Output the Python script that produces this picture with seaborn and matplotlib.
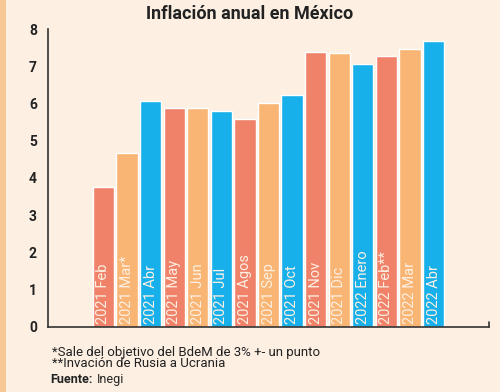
import matplotlib
matplotlib.use("Agg")
import matplotlib.pyplot as plt
import seaborn as sns
from matplotlib.patches import Rectangle

# ---------------- DATA ----------------
meses = ["2021 Feb", "2021 Mar*", "2021 Abr", "2021 May", "2021 Jun", "2021 Jul",
         "2021 Agos", "2021 Sep", "2021 Oct", "2021 Nov", "2021 Dic", "2022 Enero",
         "2022 Feb**", "2022 Mar", "2022 Abr"]
inflacion = [3.76, 4.67, 6.08, 5.89, 5.88, 5.81, 5.59, 6.00, 6.24, 7.37, 7.36, 7.07,
             7.28, 7.45, 7.68]
colores = ["#f0826a", "#f9b574", "#18b0ea"] * 5
yticks = [0, 1, 2, 3, 4, 5, 6, 7, 8]

BG = "#fdf0e3"
INK = "#222222"

sns.set_style("white")
plt.rcParams["font.family"] = ["Roboto", "DejaVu Sans"]

fig = plt.figure(figsize=(5, 3.92), dpi=100, facecolor=BG)
ax = fig.add_axes([0.096, 0.166, 0.882, 0.76])
ax.set_facecolor(BG)

sns.barplot(x=meses, y=inflacion, hue=meses, palette=colores, legend=False,
            width=0.9, saturation=1, ax=ax)

# month labels inside the bars
for i, m in enumerate(meses):
    ax.text(i, 0.08, m, rotation=90, ha="center", va="bottom",
            fontsize=10.5, color=BG)

ax.set_xlim(-2.35, 16.35)
ax.set_ylim(0, 8)
ax.set_xticks([])
ax.set_yticks(yticks)
ax.set_yticklabels([str(t) for t in yticks], fontsize=10, fontweight="bold", color=INK)
ax.tick_params(axis="y", direction="in", length=9, width=1.2, color="#444444", pad=8)
ax.set_xlabel("")
ax.set_ylabel("")
for s in ["top", "right"]:
    ax.spines[s].set_visible(False)
for s in ["left", "bottom"]:
    ax.spines[s].set_color("#333333")
    ax.spines[s].set_linewidth(1.2)
# small end mark on the x axis
ax.plot([16.35, 16.35], [0, 0.12], color="#333333", lw=1.2, clip_on=False)

# left strip
fig.patches.append(Rectangle((0, 0), 0.011, 1, transform=fig.transFigure,
                             facecolor="#f8c796", edgecolor="none"))

fig.text(0.5, 0.965, "Inflación anual en México", ha="center", va="center",
         fontsize=13, fontweight="bold", color=INK)
fig.text(0.104, 0.102, "*Sale del objetivo del BdeM de 3% +- un punto",
         fontsize=9.5, color=INK, va="center")
fig.text(0.104, 0.072, "**Invación de Rusia a Ucrania", fontsize=9.5, color=INK,
         va="center")
fuente = fig.text(0.1, 0.032, "Fuente:", fontsize=9, fontweight="bold", color=INK,
                  va="center")
fig.canvas.draw()
ax.annotate("Inegi", xy=(1, 0.5), xycoords=fuente, xytext=(3, 0),
            textcoords="offset points", fontsize=9, color=INK, va="center",
            annotation_clip=False)

fig.savefig("out.png", dpi=100, facecolor=BG)
